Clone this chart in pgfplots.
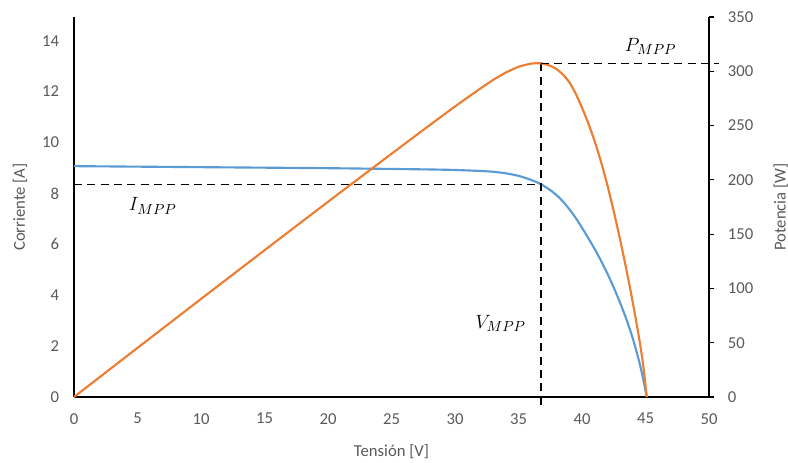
\documentclass[border=0pt]{standalone}
\usepackage{fontspec}
\setmainfont{Carlito}
\usepackage{pgfplots}
\pgfplotsset{compat=1.18}
\definecolor{excelblue}{RGB}{91,155,213}
\definecolor{excelorange}{RGB}{237,125,49}
\definecolor{txtgray}{RGB}{89,89,89}
\begin{document}
\fontsize{12}{14}\selectfont
\begin{tikzpicture}
\path[use as bounding box] (-55.5pt,-49.5pt) rectangle (535.5pt,297.75pt);
\pgfplotsset{
  every axis/.append style={
    at={(0,0)}, anchor=south west,
    scale only axis, width=476.25pt, height=285pt,
    xmin=0, xmax=50,
    /pgf/number format/assume math mode=true,
    tick label style={font=\fontsize{12.5}{14}\selectfont, text=txtgray},
    label style={font=\fontsize{12.5}{14}\selectfont, text=txtgray},
    axis line style={black, line width=0.9pt},
  }
}
\begin{axis}[
  axis x line*=bottom, axis y line*=left,
  ymin=0, ymax=14.93,
  xtick={0,5,...,50}, ytick={0,2,...,14},
  major tick length=0pt,
  xticklabel style={yshift=-8pt},
  yticklabel style={xshift=-7pt},
  xlabel={Tensión [V]}, ylabel={Corriente [A]},
  xlabel style={yshift=-7pt},
  ylabel style={yshift=3pt},
  clip=false,
]
\addplot[excelblue, line width=1.6pt, smooth, tension=0.3] coordinates {
(0,9.07) (5,9.05) (10,9.03) (15,9.01) (20,8.99) (25,8.96) (28,8.94) (30,8.92)
(32,8.88) (33,8.85) (34,8.79) (35,8.69) (36,8.53) (36.77,8.36) (37.5,8.13)
(38,7.93) (38.5,7.68) (39,7.38) (39.5,7.04) (40,6.65) (40.5,6.24) (41,5.81)
(41.5,5.35) (42,4.85) (42.5,4.3) (43,3.7) (43.5,3.05) (44,2.3) (44.5,1.4)
(44.8,0.75) (45.1,0)};
\addplot[black, line width=1pt, dash pattern=on 6pt off 4pt] coordinates {(0,8.36) (36.77,8.36)};
\addplot[black, line width=1pt, dash pattern=on 6pt off 4pt] coordinates {(36.77,-0.3) (36.77,13.13)};
\node[font=\fontsize{15}{17}\selectfont] at (axis cs:6.2,7.5) {$I_{MPP}$};
\node[font=\fontsize{15}{17}\selectfont] at (axis cs:33.6,2.9) {$V_{MPP}$};
\end{axis}
\begin{axis}[
  axis y line*=right, hide x axis,
  ymin=0, ymax=350,
  ytick={0,50,...,350},
  tick align=outside, major tick length=4pt,
  tick style={black, line width=0.9pt},
  yticklabel style={xshift=6pt},
  ylabel={Potencia [W]},
  ylabel style={yshift=-7pt},
  clip=false,
]
\addplot[excelorange, line width=1.6pt, smooth, tension=0.3] coordinates {
(0,0) (5,45.25) (10,90.3) (15,135.15) (20,179.8) (25,224) (28,250.32) (30,267.6)
(32,284.16) (33,292.05) (34,298.86) (35,304.15) (36,307.08) (36.77,307.4) (37.5,305)
(38,302) (38.5,297) (39,290) (39.5,279.5) (40,266.5) (40.5,252) (41,235.5)
(41.5,216.5) (42,195) (42.5,171) (43,145) (43.5,117) (44,87) (44.5,54)
(44.8,31) (45.1,0)};
\addplot[black, line width=1pt, dash pattern=on 6pt off 4pt] coordinates {(36.77,307.4) (50.8,307.4)};
\node[font=\fontsize{15}{17}\selectfont] at (axis cs:45.4,323) {$P_{MPP}$};
\end{axis}
\end{tikzpicture}
\end{document}
